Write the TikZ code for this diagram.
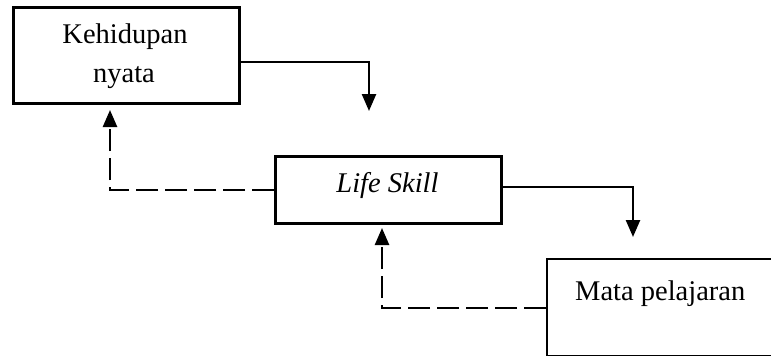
\documentclass[tikz,border=0pt]{standalone}
\usepackage{fontspec}
\setmainfont{Liberation Serif}
\usetikzlibrary{arrows.meta}
\begin{document}
\begin{tikzpicture}[x=1pt,y=-1pt,
  box/.style={draw,rectangle,inner sep=0pt,anchor=north west},
  lbl/.style={font=\fontsize{28.5}{34}\selectfont,inner sep=0pt,anchor=base},
  flow/.style={line width=2.5pt,-{Triangle[width=14pt,length=17pt]}},
  back/.style={flow,dash pattern=on 22pt off 7pt}]
  \useasboundingbox (0,0) rectangle (771,356);
  \clip (0,0) rectangle (771,356);

  % boxes
  \node[box,line width=3.4pt,minimum width=226pt,minimum height=96pt] (real) at (12,6) {};
  \node[box,line width=3pt,minimum width=226pt,minimum height=67pt] (skill) at (274,155) {};
  \node[box,line width=2.4pt,minimum width=260pt,minimum height=97pt] (subj) at (546,258) {};

  % labels
  \node[lbl] (t1) at (125,43) {Kehidupan};
  \node[lbl] (t2) at (124,82) {nyata};
  \node[lbl] (t3) at (387.5,192) {\itshape Life Skill};
  \node[lbl,anchor=base west] (t4) at (575,300) {Mata pelajaran};

  % free ends of the connectors
  \coordinate (c1) at (369,111);
  \coordinate (c2) at (110,110);
  \coordinate (c3) at (633,237);
  \coordinate (c4) at (382,228);

  % forward (solid) connectors
  \draw[flow] (real.east |- 0,62) -| (c1);
  \draw[flow] (skill.east |- 0,187) -| (c3);

  % feedback (dashed) connectors
  \draw[back] (skill.west |- 0,190) -| (c2);
  \draw[back] (subj.west |- 0,308) -| (c4);
\end{tikzpicture}
\end{document}
